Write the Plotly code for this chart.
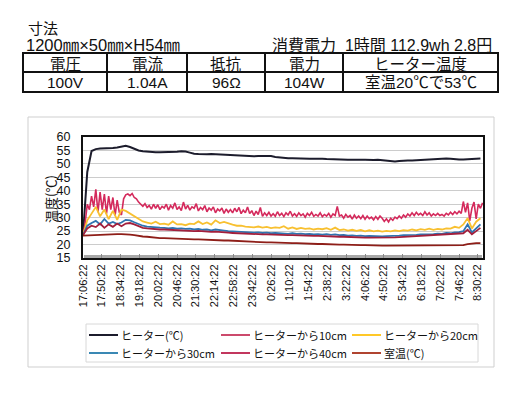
import plotly.graph_objects as go
from datetime import datetime, timedelta

# ---------------- data ----------------
tick_labels = ["17:06:22", "17:50:22", "18:34:22", "19:18:22", "20:02:22", "20:46:22",
               "21:30:22", "22:14:22", "22:58:22", "23:42:22", "0:26:22", "1:10:22",
               "1:54:22", "2:38:22", "3:22:22", "4:06:22", "4:50:22", "5:34:22",
               "6:18:22", "7:02:22", "7:46:22", "8:30:22"]

# minutes since 17:06:22
t_fine = list(range(0, 940, 5))
t_coarse = list(range(0, 940, 10))

heater = [23.5, 47.0, 54.8, 55.5, 55.7, 55.7, 55.8, 55.9, 56.1, 56.5,
          56.7, 56.3, 55.5, 55.0, 54.7, 54.5, 54.4, 54.3, 54.3, 54.3,
          54.4, 54.5, 54.5, 54.7, 54.6, 54.2, 53.8, 53.7, 53.6, 53.6,
          53.7, 53.6, 53.6, 53.5, 53.4, 53.3, 53.1, 52.9, 52.8, 52.7,
          52.8, 52.9, 52.9, 52.8, 52.9, 52.6, 52.4, 52.2, 52.1, 52.1,
          52.0, 52.1, 52.0, 51.9, 51.9, 52.0, 51.9, 51.8, 51.7, 51.7,
          51.6, 51.6, 51.5, 51.5, 51.6, 51.5, 51.5, 51.4, 51.4, 51.5,
          51.4, 51.2, 51.0, 50.9, 51.1, 51.3, 51.3, 51.3, 51.4, 51.4,
          51.4, 51.5, 51.6, 51.7, 51.9, 52.0, 51.9, 51.7, 51.6, 51.6,
          51.7, 51.8, 51.9, 52.0]

from10 = [23.5, 28, 35, 33, 38, 34, 40.5, 32, 39.5, 33,
          38.8, 31.5, 38, 33, 37.5, 30.8, 36.5, 32, 31, 37,
          38.5, 38.8, 38.2, 39, 37.5, 37, 35.8, 35, 34.2, 35.2,
          33.8, 34.5, 33.2, 35, 33.5, 34.8, 33, 34.2, 33.6, 35,
          32.8, 34.5, 33.5, 35.5, 33, 34, 32.6, 35.8, 33.2, 34.6,
          32.8, 34, 33.5, 35.2, 32.5, 33.8, 33, 34.5, 32.2, 33.6,
          32.8, 34, 31.8, 33.2, 32.5, 33.6, 31.6, 33.2, 32, 33,
          31.8, 33.5, 32.2, 33.8, 31.5, 32.8, 31.8, 34, 31.5, 32.6,
          30.8, 32.4, 31.2, 33.8, 30.5, 31.8, 30.8, 32, 30.6, 31.5,
          30.5, 32.2, 30.8, 31.6, 30.4, 31.8, 31, 32.4, 30.6, 31.5,
          30.5, 31.8, 30.8, 31.4, 30.2, 31.6, 30.8, 32, 30.5, 31.2,
          30.6, 31.8, 30.4, 31.2, 30.6, 31.6, 30.2, 31.4, 30.8, 34.2,
          30.6, 31, 29.8, 31.2, 30.2, 30.8, 29.5, 31, 29.8, 30.6,
          29.6, 30.8, 29.4, 30.6, 29.6, 30.2, 29.2, 30.4, 29.4, 30.6,
          29.8, 28.6, 29.6, 28.4, 29.8, 29, 30.2, 29.6, 30.6, 29.8,
          31, 30.2, 31.4, 30.6, 31.8, 30.8, 32, 31, 31.6, 30.8,
          32.2, 31, 31.8, 30.6, 31.4, 30.8, 31.6, 30.8, 31.2, 30.6,
          31.6, 31, 32, 31.2, 32.2, 31.4, 32.4, 31.6, 36, 32,
          35.5, 28.8, 33.5, 35.8, 29.5, 35, 33.5, 35.5]

from20 = [23.5, 29.0, 31.5, 34.0, 30.5, 33.0, 29.5, 32.5, 29.2, 33.0,
          32.5, 31.5, 30.5, 29.5, 28.6, 28.2, 27.8, 28.5, 27.6, 27.8,
          27.4, 28.6, 27.5, 27.6, 27.2, 27.8, 27.6, 28.6, 27.6, 28.2,
          27.4, 29.0, 28.0, 28.4, 27.8, 27.4, 27.0, 27.0, 26.7, 26.5,
          26.4, 26.7, 26.3, 26.6, 26.1, 26.4, 26.2, 26.8, 25.9, 26.4,
          25.8, 26.2, 25.8, 26.0, 25.6, 25.9, 25.7, 26.1, 25.5, 26.3,
          25.4, 25.6, 25.2, 25.5, 25.1, 25.4, 24.9, 25.3, 24.9, 25.2,
          24.8, 25.1, 24.9, 25.3, 25.0, 25.4, 25.2, 25.6, 25.3, 25.7,
          25.5, 25.9, 25.5, 25.8, 25.6, 26.0, 25.9, 26.6, 26.2, 27.5,
          29.8, 26.0, 28.5, 29.8]

from30 = [23.5, 27.0, 28.0, 28.8, 27.5, 29.5, 27.8, 28.4, 27.6, 28.2,
          29.2, 29.0, 28.3, 27.6, 27.0, 26.7, 26.5, 26.4, 26.3, 26.2,
          26.0, 26.2, 25.9, 26.0, 25.8, 25.9, 25.6, 25.8, 25.5, 25.6,
          25.3, 25.6, 25.3, 25.2, 25.0, 24.9, 24.8, 24.7, 24.5, 24.4,
          24.4, 24.5, 24.3, 24.4, 24.2, 24.3, 24.2, 24.3, 24.0, 24.2,
          24.0, 24.1, 23.9, 24.0, 23.8, 23.9, 23.7, 23.9, 23.6, 23.8,
          23.5, 23.6, 23.3, 23.4, 23.2, 23.3, 23.1, 23.2, 23.1, 23.2,
          23.0, 23.1, 23.1, 23.3, 23.3, 23.5, 23.5, 23.7, 23.6, 23.8,
          23.8, 24.0, 23.9, 24.1, 24.0, 24.3, 24.2, 24.5, 24.6, 25.0,
          27.5, 24.5, 26.0, 27.5]

from40 = [23.5, 26.0, 27.0, 26.5, 27.8, 26.2, 27.5, 26.6, 27.8, 26.8,
          27.8, 28.0, 27.5, 26.8, 26.2, 26.0, 25.8, 25.8, 25.6, 25.6,
          25.5, 25.5, 25.4, 25.3, 25.3, 25.2, 25.0, 25.1, 24.9, 24.9,
          24.7, 24.8, 24.6, 24.5, 24.4, 24.3, 24.2, 24.1, 24.0, 23.9,
          23.9, 23.9, 23.8, 23.8, 23.7, 23.7, 23.6, 23.6, 23.5, 23.5,
          23.4, 23.4, 23.3, 23.3, 23.2, 23.2, 23.1, 23.1, 23.0, 23.0,
          22.9, 22.9, 22.8, 22.8, 22.7, 22.7, 22.6, 22.6, 22.6, 22.6,
          22.5, 22.6, 22.6, 22.7, 22.8, 22.9, 23.0, 23.1, 23.2, 23.3,
          23.4, 23.5, 23.6, 23.6, 23.7, 23.8, 23.8, 23.9, 24.0, 24.2,
          25.5, 23.8, 25.0, 26.2]

room = [23.3, 23.4, 23.4, 23.5, 23.6, 23.6, 23.7, 23.8, 23.9, 23.9,
        23.9, 23.7, 23.5, 23.2, 23.0, 22.9, 22.7, 22.5, 22.4, 22.4,
        22.3, 22.3, 22.2, 22.1, 22.1, 22.0, 21.9, 21.9, 21.8, 21.8,
        21.7, 21.6, 21.6, 21.5, 21.5, 21.4, 21.3, 21.2, 21.1, 21.0,
        21.0, 20.9, 20.9, 20.8, 20.8, 20.7, 20.7, 20.6, 20.6, 20.5,
        20.5, 20.4, 20.4, 20.3, 20.3, 20.2, 20.2, 20.1, 20.1, 20.1,
        20.0, 20.0, 19.9, 19.9, 19.8, 19.8, 19.8, 19.7, 19.7, 19.7,
        19.6, 19.6, 19.6, 19.6, 19.6, 19.6, 19.6, 19.6, 19.6, 19.6,
        19.6, 19.6, 19.6, 19.6, 19.6, 19.6, 19.7, 19.7, 19.7, 19.8,
        20.2, 20.4, 20.5, 20.5]

series_names = ["ヒーター(℃)", "ヒーターから10cm", "ヒーターから20cm",
                "ヒーターから30cm", "ヒーターから40cm", "室温(℃)"]
series_colors = ["#1c1c2c", "#d42a5c", "#f8c030", "#2f74b0", "#a21f3c", "#8e1e18"]
legend_colors = ["#1c1c2c", "#cc4a6c", "#ffc828", "#3a88b4", "#c2365e", "#b04430"]

header_cells = ["電圧", "電流", "抵抗", "電力", "ヒーター温度"]
value_cells = ["100V", "1.04A", "96Ω", "104W", "室温20℃で53℃"]

# ---------------- figure ----------------
base = datetime(2000, 1, 1, 17, 6, 22)


def to_dt(lbl):
    h, m, s = map(int, lbl.split(":"))
    d = datetime(2000, 1, 1, h, m, s)
    if d < base:
        d += timedelta(days=1)
    return d


tick_vals = [to_dt(l) for l in tick_labels]
x_fine = [base + timedelta(minutes=m) for m in t_fine]
x_coarse = [base + timedelta(minutes=m) for m in t_coarse]

data = [(x_coarse, heater, 2.0), (x_fine, from10, 1.6), (x_coarse, from20, 1.8),
        (x_coarse, from30, 1.8), (x_coarse, from40, 1.8), (x_coarse, room, 1.8)]

fig = go.Figure()
for (xs, ys, w), name, col in zip(data, series_names, series_colors):
    n = min(len(xs), len(ys))
    fig.add_trace(go.Scatter(x=xs[:n], y=ys[:n], mode="lines", name=name,
                             line=dict(color=col, width=w), showlegend=False))

# page body has an 8px margin -> figure is drawn 8px right/down of window origin
OFF = 8
W, H = 530 - 2 * OFF, 395 - 2 * OFF
L, R, T, B = 83, 483, 137, 258   # plot area in window pixels


def px(x):
    return (x - L) / (R - L)


def py(y):
    return (B - y) / (B - T)


shapes = []
annotations = []
JP = "Noto Sans CJK JP"
MIX = "Liberation Sans, Noto Sans CJK JP"

# outer chart frame
shapes.append(dict(type="rect", xref="paper", yref="paper", x0=px(28), x1=px(494),
                   y0=py(117), y1=py(367), line=dict(color="#cfcfcf", width=1), layer="below"))
# legend frame
shapes.append(dict(type="rect", xref="paper", yref="paper", x0=px(86), x1=px(478),
                   y0=py(324), y1=py(362), line=dict(color="#d8d8d8", width=1), layer="below"))

# legend entries
col_x = [89, 221, 352]
row_y = [335, 353]
for i, (name, col) in enumerate(zip(series_names, legend_colors)):
    cx = col_x[i % 3]
    cy = row_y[i // 3]
    shapes.append(dict(type="line", xref="paper", yref="paper", x0=px(cx), x1=px(cx + 29),
                       y0=py(cy), y1=py(cy), line=dict(color=col, width=2)))
    annotations.append(dict(xref="paper", yref="paper", x=px(cx + 30), y=py(cy),
                            text=name, showarrow=False, xanchor="left", yanchor="middle",
                            font=dict(family=JP, size=11, color="#111")))

# y axis title
annotations.append(dict(xref="paper", yref="paper", x=px(50), y=py(199), text="温度(℃)",
                        showarrow=False, textangle=-90, xanchor="center", yanchor="middle",
                        font=dict(family=JP, size=13, color="#111")))

# header texts
annotations.append(dict(xref="paper", yref="paper", x=px(26), y=py(28), text="寸法",
                        showarrow=False, xanchor="left", yanchor="middle",
                        font=dict(family=JP, size=15, color="#111")))
annotations.append(dict(xref="paper", yref="paper", x=px(24), y=py(45),
                        text="1200㎜×50㎜×H54㎜", showarrow=False, xanchor="left",
                        yanchor="middle", font=dict(family=MIX, size=16.5, color="#111")))
annotations.append(dict(xref="paper", yref="paper", x=px(494), y=py(45),
                        text="消費電力  1時間 112.9wh 2.8円", showarrow=False,
                        xanchor="right", yanchor="middle",
                        font=dict(family=MIX, size=16, color="#111")))

# table
tx = [23, 107, 187, 265, 343, 498]
ty = [53, 72, 92]
shapes.append(dict(type="rect", xref="paper", yref="paper", x0=px(tx[0]), x1=px(tx[-1]),
                   y0=py(ty[0]), y1=py(ty[-1]), line=dict(color="#111", width=2)))
shapes.append(dict(type="line", xref="paper", yref="paper", x0=px(tx[0]), x1=px(tx[-1]),
                   y0=py(ty[1]), y1=py(ty[1]), line=dict(color="#111", width=2)))
for xv in tx[1:-1]:
    shapes.append(dict(type="line", xref="paper", yref="paper", x0=px(xv), x1=px(xv),
                       y0=py(ty[0]), y1=py(ty[-1]), line=dict(color="#111", width=2)))
for i in range(5):
    cxm = (tx[i] + tx[i + 1]) / 2
    annotations.append(dict(xref="paper", yref="paper", x=px(cxm), y=py((ty[0] + ty[1]) / 2 + 0.5),
                            text=header_cells[i], showarrow=False, xanchor="center",
                            yanchor="middle", font=dict(family=JP, size=15.5, color="#111")))
    annotations.append(dict(xref="paper", yref="paper", x=px(cxm), y=py((ty[1] + ty[2]) / 2 + 0.5),
                            text=value_cells[i], showarrow=False, xanchor="center",
                            yanchor="middle", font=dict(family=MIX, size=15.5, color="#111")))

fig.update_layout(
    width=W, height=H,
    margin=dict(l=L - OFF, r=W - (R - OFF), t=T - OFF, b=H - (B - OFF), pad=0),
    paper_bgcolor="white", plot_bgcolor="white",
    shapes=shapes, annotations=annotations,
    showlegend=False,
)
fig.update_xaxes(
    type="date",
    range=[base, base + timedelta(minutes=936)],
    tickvals=tick_vals, ticktext=tick_labels, tickangle=-90,
    tickfont=dict(family="Liberation Sans", size=11, color="#111"),
    showgrid=False, zeroline=False,
    showline=True, mirror=True, linecolor="#111", linewidth=2,
    ticks="inside", ticklen=4, tickcolor="#888",
    minor=dict(ticks="inside", ticklen=3, tickcolor="#a8a8a8", dtick=2 * 60 * 1000),
)
fig.update_yaxes(
    range=[15, 60], dtick=5, tick0=15,
    tickfont=dict(family="Liberation Sans", size=12.5, color="#111"),
    showgrid=True, gridcolor="#cccccc", gridwidth=1, zeroline=False,
    showline=True, mirror=True, linecolor="#111", linewidth=2,
    ticks="", ticklabelstandoff=8,
)

fig.write_html("out.html")
